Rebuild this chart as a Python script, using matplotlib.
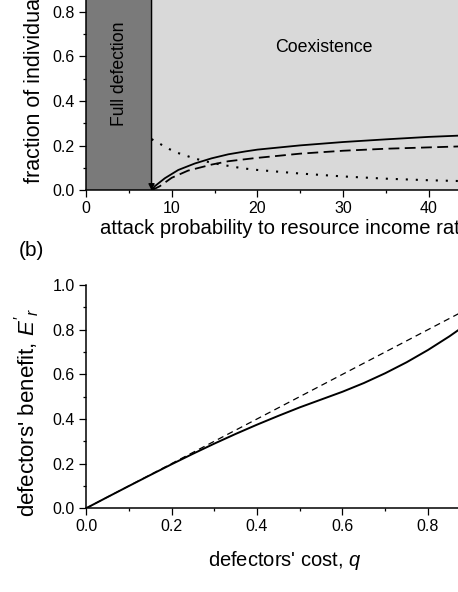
import matplotlib
matplotlib.use("Agg")
import matplotlib.pyplot as plt
from matplotlib.ticker import MultipleLocator

plt.rcParams['font.family'] = ['Liberation Sans', 'DejaVu Sans']
plt.rcParams['mathtext.fontset'] = 'custom'
plt.rcParams['mathtext.rm'] = 'Liberation Sans'
plt.rcParams['mathtext.it'] = 'Liberation Sans:italic'

# === Panel (a) data ===
threshold = 7.65
ratio_solid = [7.65, 8.05, 9.2, 10.77, 12.7, 14.65, 16.6, 18.6, 20, 25, 30, 35, 40, 45, 50]
frac_solid = [0.0, 0.019, 0.054, 0.091, 0.12, 0.143, 0.161, 0.174, 0.182, 0.201, 0.216, 0.228, 0.239, 0.247, 0.253]
ratio_dash = [7.65, 8.6, 10.0, 11.9, 14.65, 16.6, 19.7, 25, 30, 35, 40, 45, 50]
frac_dash = [0.0, 0.018, 0.056, 0.088, 0.115, 0.13, 0.144, 0.164, 0.177, 0.186, 0.192, 0.198, 0.203]
ratio_dot = [7.65, 9.69, 10.65, 11.6, 12.6, 14.65, 16.2, 17.4, 18.6, 20, 25, 30, 35, 40, 45, 50]
frac_dot = [0.229, 0.185, 0.168, 0.156, 0.143, 0.123, 0.112, 0.104, 0.097, 0.091, 0.075, 0.062, 0.052, 0.045, 0.04, 0.036]

# === Panel (b) data ===
cost_q = [0.0, 0.05, 0.1, 0.15, 0.2, 0.25, 0.3, 0.35, 0.4, 0.45, 0.5,
          0.55, 0.6, 0.65, 0.7, 0.75, 0.8, 0.85, 0.9]
benefit = [0.0, 0.05, 0.0995, 0.1485, 0.197, 0.244, 0.2895, 0.333, 0.3745, 0.414, 0.452,
           0.487, 0.522, 0.561, 0.605, 0.654, 0.709, 0.77, 0.837]
diag = [0.0, 1.0]

W, H = 458, 592
fig = plt.figure(figsize=(W / 100, H / 100), dpi=100)

def px_axes(left, right, y0, y1):
    # pixel box (y from top) -> figure fraction
    return [left / W, 1 - y0 / H, (right - left) / W, (y0 - y1) / H]

ax1 = fig.add_axes(px_axes(86, 514.5, 190.3, -33.2))
ax2 = fig.add_axes(px_axes(86, 513.5, 508.3, 285.0))

for ax in (ax1, ax2):
    ax.spines['top'].set_visible(False)
    ax.spines['right'].set_visible(False)
    for s in ('left', 'bottom'):
        ax.spines[s].set_linewidth(1.1)
    ax.tick_params(which='major', direction='out', length=5, width=0.9, labelsize=11.5, pad=3)
    ax.tick_params(which='minor', direction='out', length=2.5, width=0.9)
    ax.set_ylim(0, 1.0)
    ax.yaxis.set_major_locator(MultipleLocator(0.2))
    ax.yaxis.set_minor_locator(MultipleLocator(0.1))
    ax.yaxis.set_major_formatter(lambda v, p: f"{v:.1f}")

# --- panel (a) ---
ax1.set_xlim(0, 50)
ax1.xaxis.set_major_locator(MultipleLocator(10))
ax1.xaxis.set_minor_locator(MultipleLocator(5))
ax1.axvspan(0, threshold, color='#7a7a7a', lw=0, zorder=0)
ax1.axvspan(threshold, 50, color='#d9d9d9', lw=0, zorder=0)
ax1.annotate('', xy=(threshold, 0), xytext=(threshold, 1.0),
             arrowprops=dict(arrowstyle='-|>', color='k', lw=1.0,
                             mutation_scale=9, shrinkA=0, shrinkB=0))
ax1.plot(ratio_solid, frac_solid, color='k', lw=1.3)
ax1.plot(ratio_dash, frac_dash, color='k', lw=1.3, ls=(0, (6, 3)))
ax1.plot(ratio_dot, frac_dot, color='k', lw=1.5, ls=(0, (1, 3.8)))
ax1.text(27.75, 0.637, 'Coexistence', fontsize=12.8, ha='center', va='center')
ax1.text(3.87, 0.52, 'Full defection', fontsize=12.7, rotation=90, ha='center', va='center')

ax1.set_xlabel('attack probability to resource income ratio', fontsize=14.6, ha='left', va='center')
ax1.xaxis.set_label_coords((100 - 86) / 428.5, (190.3 - 229) / 223.5)
ax1.set_ylabel('fraction of individuals', fontsize=15.5, ha='left', va='center')
ax1.yaxis.set_label_coords((35 - 86) / 428.5, (190.3 - 183) / 223.5)

# --- panel (b) ---
ax2.set_xlim(0, 1.0)
ax2.xaxis.set_major_locator(MultipleLocator(0.2))
ax2.xaxis.set_minor_locator(MultipleLocator(0.1))
ax2.xaxis.set_major_formatter(lambda v, p: f"{v:.1f}")
ax2.plot(diag, diag, color='k', lw=0.9, ls=(0, (5, 3.5)))
ax2.plot(cost_q, benefit, color='k', lw=1.4)

ax2.set_xlabel("defectors' cost, $q$", fontsize=14.5, va='center')
ax2.xaxis.set_label_coords((285 - 86) / 427.5, (508.3 - 560) / 223.3)
ax2.set_ylabel("defectors' benefit, $E'_r$", fontsize=16, va='center')
ax2.yaxis.set_label_coords((27 - 86) / 427.5, (508.3 - 412.5) / 223.3)

fig.text(31 / W, 1 - 250 / H, '(b)', fontsize=15, ha='center', va='center')

fig.savefig('out.png', dpi=100)
